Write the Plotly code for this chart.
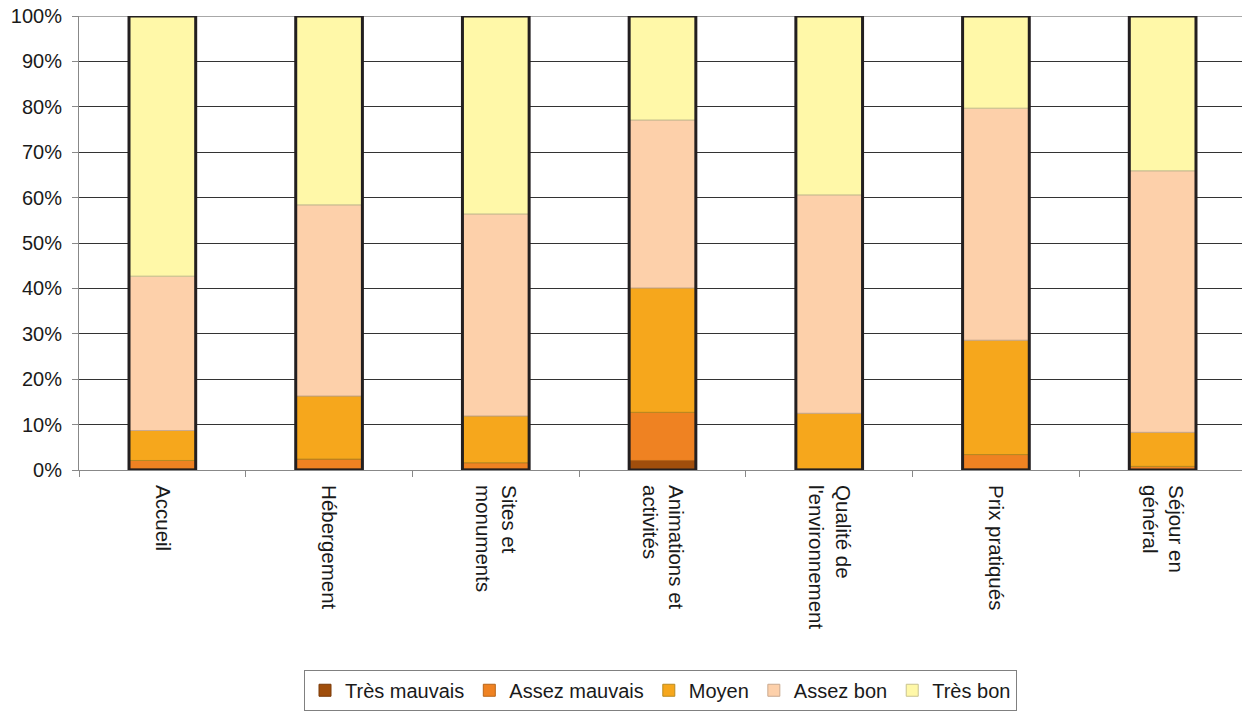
import plotly.graph_objects as go

categories = ["Accueil", "Hébergement", "Sites et<br>monuments", "Animations et<br>activités",
              "Qualité de<br>l'environnement", "Prix pratiqués", "Séjour en<br>général"]
series_names = ["Très mauvais", "Assez mauvais", "Moyen", "Assez bon", "Très bon"]
tres_mauvais = [0.3, 0.3, 0.3, 2.1, 0.0, 0.3, 0.0]
assez_mauvais = [1.8, 2.1, 1.3, 10.6, 0.3, 3.1, 0.8]
moyen = [6.6, 13.9, 10.3, 27.4, 12.2, 25.2, 7.5]
assez_bon = [34.0, 42.1, 44.5, 37.0, 48.1, 51.1, 57.6]
tres_bon = [57.3, 41.6, 43.6, 22.9, 39.4, 20.3, 34.1]
yticks = [0, 10, 20, 30, 40, 50, 60, 70, 80, 90, 100]

colors = ["#A04E0C", "#EF8222", "#F6A71C", "#FDD0AA", "#FFF8A8"]
edge_colors = ["#7a3a08", "#b86418", "#b88a20", "#c9a990", "#c8c290"]

series = [tres_mauvais, assez_mauvais, moyen, assez_bon, tres_bon]
fig = go.Figure()
base = [0.0] * len(categories)
for name, vals, col, ec in zip(series_names, series, colors, edge_colors):
    fig.add_trace(go.Bar(
        x=categories, y=vals, base=list(base), name=name,
        marker=dict(color=col, line=dict(color=ec, width=1)),
        width=0.4,
    ))
    base = [b + v for b, v in zip(base, vals)]

totals = base
fig.add_trace(go.Bar(
    x=categories, y=totals, base=[0] * len(categories), showlegend=False,
    marker=dict(color="rgba(0,0,0,0)", line=dict(color="#231f20", width=3)),
    width=0.4, hoverinfo="skip",
))

# light top border line of the plot area (100% gridline)
fig.add_shape(type="line", xref="paper", yref="y", x0=0, x1=1, y0=100, y1=100,
              line=dict(color="#a8a8a8", width=2), layer="below")

fig.update_layout(
    width=1242, height=713,
    barmode="overlay",
    margin=dict(l=79, r=0, t=16, b=243),
    plot_bgcolor="white", paper_bgcolor="white",
    font=dict(family="Liberation Sans, Arial, sans-serif", size=20, color="#1a1a1a"),
    showlegend=True,
    legend=dict(
        orientation="h", traceorder="normal",
        x=0.5, xanchor="center", y=-0.44, yanchor="top",
        bordercolor="#808080", borderwidth=1,
        font=dict(size=20, color="#1a1a1a"),
        itemwidth=30,
    ),
    xaxis=dict(
        range=[-0.5, 6.476],
        tickangle=90,
        automargin=False,
        ticks="outside", tickson="boundaries", ticklen=6, tickcolor="#888",
        showline=True, linecolor="#888", linewidth=1,
        tickfont=dict(size=20.5, color="#1a1a1a"),
        ticklabelstandoff=10,
        showgrid=False,
    ),
    yaxis=dict(
        range=[0, 100],
        tickvals=yticks,
        ticktext=[f"{v}%" for v in yticks],
        automargin=False,
        ticks="outside", ticklen=6, tickcolor="#888",
        showline=True, linecolor="#888", linewidth=1,
        showgrid=True, gridcolor="#333", gridwidth=1,
        zeroline=False,
        ticklabelstandoff=6,
        ticklabeloverflow="allow",
        tickfont=dict(size=20, color="#1a1a1a"),
    ),
)

fig.write_html("out.html", config={"displayModeBar": False},
               post_script="document.body.style.margin='0';")
